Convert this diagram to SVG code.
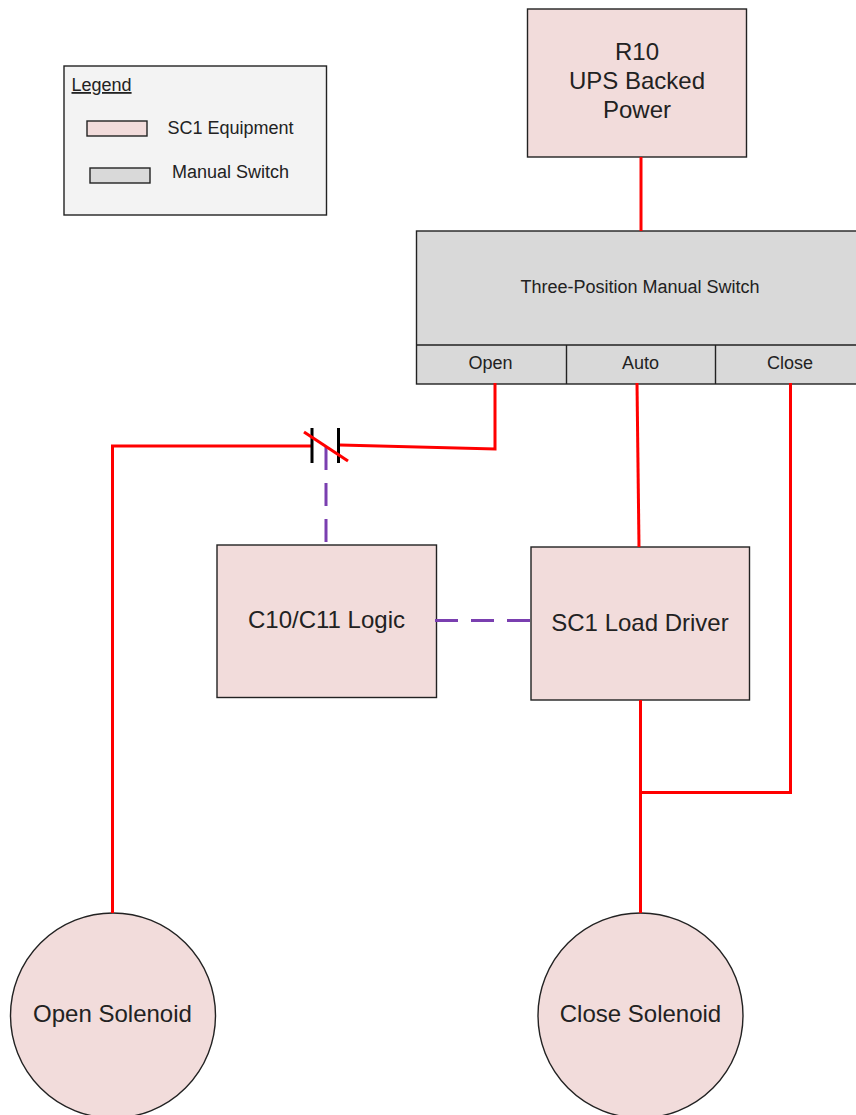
<svg xmlns="http://www.w3.org/2000/svg" width="856" height="1115" viewBox="0 0 856 1115">
<style>
text{font-family:"Liberation Sans",Arial,sans-serif;fill:#222;text-anchor:middle}
.e{fill:#f2dcdb;stroke:#222;stroke-width:1.4}
.s{fill:#d9d9d9;stroke:#222;stroke-width:1.4}
.r{fill:none;stroke:#f00;stroke-width:3}
.p{fill:none;stroke:#7a3fb0;stroke-width:3;stroke-dasharray:23 13}
.k{fill:none;stroke:#000;stroke-width:3}
.big{font-size:24px}
.mid{font-size:18px}
</style>
<rect width="856" height="1115" fill="#fff"/>
<g id="legend">
<rect x="64" y="66" width="262.500" height="149" fill="#f3f3f3" stroke="#222" stroke-width="1.400"/>
<text x="71.500" y="91" style="text-anchor:start;font-size:18px;text-decoration:underline">Legend</text>
<rect class="e" x="87" y="121" width="60" height="15"/>
<text x="230.500" y="134" class="mid">SC1 Equipment</text>
<rect class="s" x="90" y="168" width="60" height="15"/>
<text x="230.500" y="177.500" class="mid">Manual Switch</text>
</g>
<g id="r10">
<rect class="e" x="527.500" y="9" width="219" height="148"/>
<text x="637" y="60" class="big">R10</text>
<text x="637" y="89" class="big">UPS Backed</text>
<text x="637" y="118" class="big">Power</text>
</g>
<g id="switch">
<rect class="s" x="416.500" y="231" width="445" height="153"/>
<path d="M416.500 345H861.500M566.500 345V384M715.500 345V384" fill="none" stroke="#222" stroke-width="1.400"/>
<text x="640" y="293" class="mid">Three-Position Manual Switch</text>
<text x="490.500" y="369" class="mid">Open</text>
<text x="640.500" y="369" class="mid">Auto</text>
<text x="790" y="369" class="mid">Close</text>
</g>
<g id="logic">
<rect class="e" x="217" y="545" width="219.500" height="152.500"/>
<text x="326.500" y="628" class="big">C10/C11 Logic</text>
</g>
<g id="driver">
<rect class="e" x="531" y="547" width="218.500" height="153"/>
<text x="640" y="631" class="big">SC1 Load Driver</text>
</g>
<g id="open-solenoid">
<circle class="e" cx="113" cy="1015.500" r="102.500"/>
<text x="112.500" y="1022" class="big">Open Solenoid</text>
</g>
<g id="close-solenoid">
<circle class="e" cx="640.500" cy="1015.500" r="102.500"/>
<text x="640.500" y="1022" class="big">Close Solenoid</text>
</g>
<g id="connectors">
<path class="r" d="M641 157V231"/>
<path class="r" d="M495 383V449L340 445"/>
<path class="r" d="M112.500 913V446H311"/>
<path class="r" d="M637 383L639 547"/>
<path class="r" d="M790.500 383V792.500H640"/>
<path class="r" d="M640.500 700V913"/>
<path class="p" d="M326 447V542"/>
<path class="p" d="M435 620.500H531"/>
<path class="k" d="M312 428V463M338.500 428V463"/>
<path class="r" d="M304 432L348 461"/>
</g>
</svg>
